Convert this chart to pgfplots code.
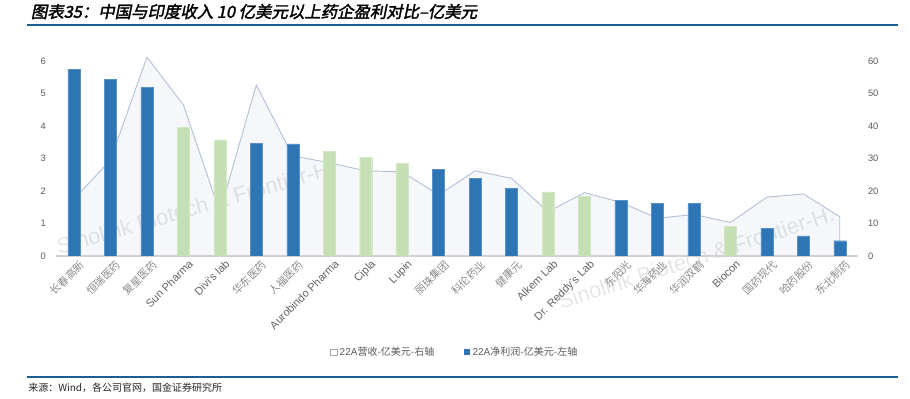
\documentclass[border=0pt]{standalone}
\usepackage{pgfplots}
\pgfplotsset{compat=1.18}
\usepackage{fontspec}
\setmainfont{Liberation Sans}
\newfontfamily\cjk{Noto Sans CJK SC}
\newfontfamily\cjkl{Noto Sans CJK SC}[Scale=0.96]
\newfontfamily\cjkt[FakeSlant=0.2,FakeBold=2]{Noto Sans CJK SC}
\definecolor{barblue}{HTML}{2E75B6}
\definecolor{bargreen}{HTML}{C5E0B4}
\definecolor{areafill}{HTML}{F5F7FB}
\definecolor{arealine}{HTML}{B4C2D9}
\definecolor{tickgray}{HTML}{595959}
\definecolor{labgray}{HTML}{646464}
\definecolor{cjkgray}{HTML}{8A8A8A}
\definecolor{titleblue}{HTML}{1F5C8F}
\begin{document}
\begin{tikzpicture}
\path[use as bounding box] (0,0) rectangle (682.5pt,299.25pt);
% title
\node[anchor=west, inner sep=0pt, text=black] at (23pt,290.6pt) {\cjkt\fontsize{12.3}{14}\selectfont 图表35：中国与印度收入 10 亿美元以上药企盈利对比–亿美元};
\draw[titleblue, line width=1.6pt] (20.25pt,280.8pt) -- (673.5pt,280.8pt);
\draw[titleblue, line width=1.2pt] (20.25pt,16.5pt) -- (673.5pt,16.5pt);
\node[anchor=west, inner sep=0pt, text=black!85] at (21pt,8.3pt) {\cjk\fontsize{7.5}{9}\selectfont 来源：Wind，各公司官网，国金证券研究所};

% right axis: revenue (area)
\begin{axis}[
  at={(41.81pt,107.25pt)}, anchor=south west,
  scale only axis, width=601.69pt, height=151.125pt,
  xmin=-0.5, xmax=21.5, ymin=0, ymax=62,
  axis x line=none,
  axis y line*=right,
  y axis line style={draw=none},
  ytick={0,10,20,30,40,50,60},
  major tick length=0pt,
  yticklabel style={font=\fontsize{7}{8}\selectfont, text=tickgray, xshift=4pt},
  /pgf/number format/assume math mode=true,
]
\addplot[fill=areafill, draw=arealine, line width=0.7pt] coordinates {
(0,17.5) (1,29.5) (2,61.2) (3,46.5) (4,13.5) (5,52.6) (6,30.8) (7,28.7)
(8,26.2) (9,25.9) (10,18.8) (11,26.2) (12,23.9) (13,13.6) (14,19.5) (15,16.5)
(16,11.6) (17,12.8) (18,10.3) (19,18.1) (20,19.1) (21,12.1)} \closedcycle;
\end{axis}

% watermarks
\node[rotate=16, text=gray, opacity=0.2, inner sep=0pt] at (147pt,144pt) {\fontsize{16.5}{17}\selectfont Sinolink Biotech \& Frontier-H.};
\node[rotate=18, text=gray, opacity=0.2, inner sep=0pt] at (522pt,106pt) {\fontsize{16.5}{17}\selectfont Sinolink Biotech \& Frontier-H.};

% left axis: net profit (bars)
\begin{axis}[
  at={(41.81pt,107.25pt)}, anchor=south west,
  scale only axis, width=601.69pt, height=151.125pt,
  xmin=-0.5, xmax=21.5, ymin=0, ymax=6.2,
  axis x line*=bottom, axis y line*=left,
  x axis line style={draw=black!18, line width=0.8pt, -},
  y axis line style={draw=none},
  major tick length=0pt,
  ytick={0,1,2,3,4,5,6},
  yticklabel style={font=\fontsize{7}{8}\selectfont, text=tickgray, xshift=-4pt},
  /pgf/number format/assume math mode=true,
  xtick={0,...,21},
  xticklabels={{\cjkl\color{cjkgray}长春高新},{\cjkl\color{cjkgray}恒瑞医药},{\cjkl\color{cjkgray}复星医药},Sun Pharma,Divi's lab,{\cjkl\color{cjkgray}华东医药},{\cjkl\color{cjkgray}人福医药},Aurobindo Pharma,Cipla,Lupin,{\cjkl\color{cjkgray}丽珠集团},{\cjkl\color{cjkgray}科伦药业},{\cjkl\color{cjkgray}健康元},Alkem Lab,Dr. Reddy's Lab,{\cjkl\color{cjkgray}东阳光},{\cjkl\color{cjkgray}华海药业},{\cjkl\color{cjkgray}华润双鹤},Biocon,{\cjkl\color{cjkgray}国药现代},{\cjkl\color{cjkgray}哈药股份},{\cjkl\color{cjkgray}东北制药}},
  xticklabel style={rotate=45, anchor=north east, inner sep=1pt, yshift=-3pt, xshift=2pt, font=\fontsize{8.3}{9}\selectfont, text=labgray},
  legend style={at={(0.342,-0.476)}, anchor=west, draw=none, fill=none, inner sep=0pt,
    font=\fontsize{7.5}{9}\selectfont, text=tickgray,
    /tikz/every even column/.append style={column sep=20pt}},
  legend columns=2,
  legend cell align=left,
]
\addlegendimage{legend image code/.code={\draw[draw=gray!70, fill=white, line width=0.4pt] (0pt,-2.3pt) rectangle (4.6pt,2.3pt);}}
\addlegendentry{22A{\cjk 营收-亿美元-右轴}}
\addplot[ybar, bar width=9pt, bar shift=0pt, fill=barblue, draw=barblue!80!white, line width=0.3pt,
  legend image code/.code={\draw[fill=barblue, draw=none] (0pt,-2.3pt) rectangle (4.6pt,2.3pt);}] coordinates {
(0,5.75) (1,5.44) (2,5.19) (5,3.47) (6,3.45) (10,2.66) (11,2.38) (12,2.08)
(15,1.71) (16,1.61) (17,1.61) (19,0.85) (20,0.62) (21,0.47)};
\addlegendentry{22A{\cjk 净利润-亿美元-左轴}}
\addplot[ybar, bar width=9pt, bar shift=0pt, fill=bargreen, draw=bargreen!80!white, line width=0.3pt, forget plot] coordinates {
(3,3.95) (4,3.57) (7,3.23) (8,3.04) (9,2.85) (13,1.97) (14,1.84) (18,0.91)};
\end{axis}
\end{tikzpicture}
\end{document}
